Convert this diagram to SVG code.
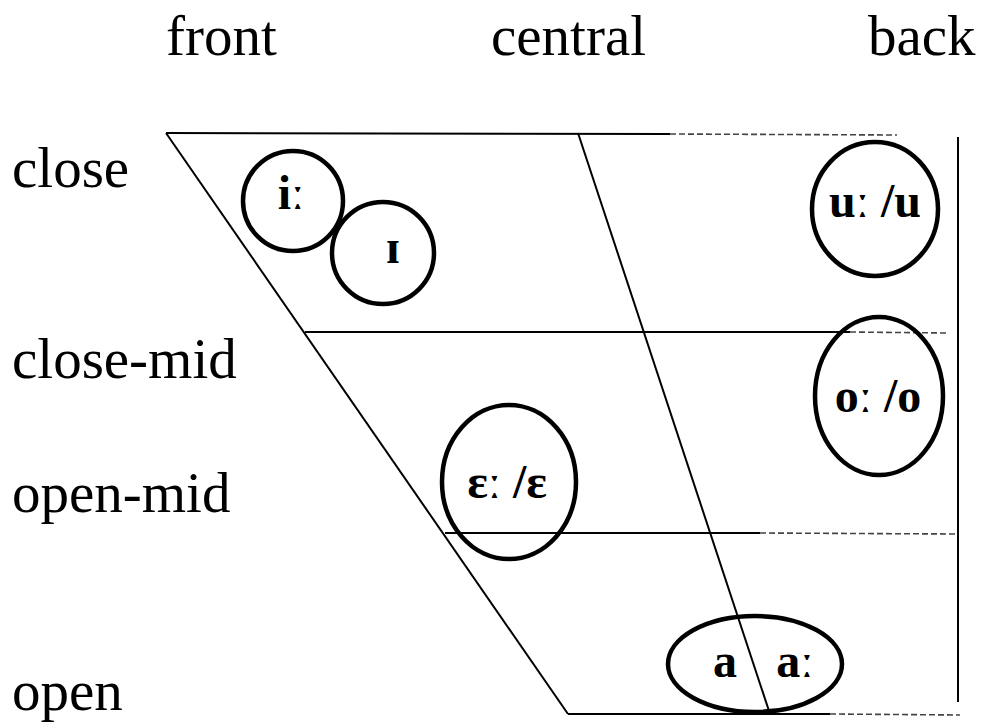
<svg xmlns="http://www.w3.org/2000/svg" width="983" height="726" viewBox="0 0 983 726">
<style>
.lbl{font-family:"Liberation Serif","Times New Roman",serif;font-size:57px;fill:#000}
.v{font-family:"Liberation Serif","DejaVu Serif",serif;font-size:48px;font-weight:bold;fill:#000;text-anchor:middle}
.ln{stroke:#000;stroke-width:2;fill:none}
.fd{stroke:#444;stroke-width:1.6;stroke-dasharray:6 3;fill:none}
.el{stroke:#000;stroke-width:4.5;fill:none}
</style>
<rect width="983" height="726" fill="#fff"/>
<g id="labels">
<text class="lbl" x="166" y="55">front</text>
<text class="lbl" x="491" y="55">central</text>
<text class="lbl" x="868" y="55">back</text>
<text class="lbl" x="12" y="187">close</text>
<text class="lbl" x="12" y="378">close-mid</text>
<text class="lbl" x="12" y="512">open-mid</text>
<text class="lbl" x="12" y="710">open</text>
</g>
<g id="connectors">
<line class="ln" x1="166" y1="133" x2="670" y2="134"/>
<line class="fd" x1="670" y1="134" x2="897" y2="135"/>
<line class="ln" x1="166" y1="133" x2="568" y2="714"/>
<line class="ln" x1="578" y1="133" x2="770" y2="714"/>
<line class="ln" x1="958" y1="137" x2="958" y2="702" stroke-width="2.6"/>
<line class="ln" x1="305" y1="332" x2="850" y2="332"/>
<line class="fd" x1="850" y1="332" x2="947" y2="333"/>
<line class="ln" x1="445" y1="533" x2="760" y2="533"/>
<line class="fd" x1="760" y1="533" x2="955" y2="534"/>
<line class="ln" x1="568" y1="714" x2="830" y2="714"/>
<line class="fd" x1="830" y1="714" x2="960" y2="715"/>
</g>
<g id="node-i-long">
<circle class="el" cx="293" cy="201" r="50"/>
<text class="v" x="291" y="209">iː</text>
</g>
<g id="node-small-cap-i">
<circle class="el" cx="383" cy="253" r="51"/>
<text class="v" x="393" y="263" font-size="54">ɪ</text>
</g>
<g id="node-u">
<ellipse class="el" cx="875" cy="209" rx="63" ry="67"/>
<text class="v" x="875" y="217">uː /u</text>
</g>
<g id="node-o">
<ellipse class="el" cx="879" cy="396" rx="64" ry="79"/>
<text class="v" x="878" y="412">oː /o</text>
</g>
<g id="node-e">
<ellipse class="el" cx="509" cy="482" rx="67" ry="77"/>
<text class="v" x="507" y="498">ɛː /ɛ</text>
</g>
<g id="node-a">
<ellipse class="el" cx="755" cy="664" rx="87" ry="48"/>
<text class="v" x="725" y="677">a</text>
<text class="v" x="795" y="677">aː</text>
</g>
</svg>
